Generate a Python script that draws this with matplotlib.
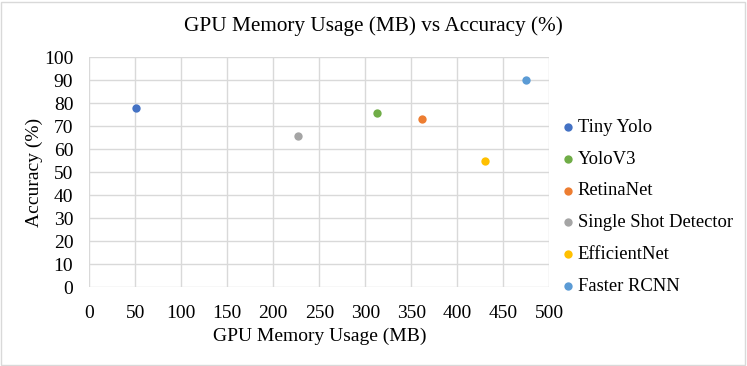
import matplotlib.pyplot as plt
from matplotlib.patches import Rectangle

# data
models = ["Tiny Yolo", "YoloV3", "RetinaNet", "Single Shot Detector",
          "EfficientNet", "Faster RCNN"]
memory_mb = [51, 313, 362, 227, 430, 475]
accuracy = [78, 75.6, 73, 66, 55, 90]
colors = ["#4472C4", "#70AD47", "#ED7D31", "#A5A5A5", "#FFC000", "#5B9BD5"]

x_ticks = list(range(0, 501, 50))
y_ticks = list(range(0, 101, 10))

plt.rcParams["font.family"] = ["Liberation Serif", "DejaVu Serif"]

fig = plt.figure(figsize=(7.47, 3.66), dpi=100)
W, H = 747, 366
ax = fig.add_axes((89.3 / W, 1 - 287.3 / H, 460 / W, 230 / H))

for name, x, y, c in zip(models, memory_mb, accuracy, colors):
    ax.scatter(x, y, s=36, color=c, label=name, zorder=3, linewidths=0)

ax.set_xlim(0, 500)
ax.set_ylim(0, 100)
ax.set_xticks(x_ticks)
ax.set_yticks(y_ticks)
ax.grid(True, color="#D9D9D9", linewidth=1)
ax.set_axisbelow(True)
for s in ax.spines.values():
    s.set_visible(False)
ax.tick_params(length=0, labelsize=14, colors="#000000")
ax.tick_params(axis="x", pad=12.5)
ax.tick_params(axis="y", pad=11.5)

ax.set_xlabel("GPU Memory Usage (MB)", fontsize=14, labelpad=4)
ax.set_ylabel("Accuracy (%)", fontsize=14, labelpad=0.5)

fig.text(373 / W, 1 - 26 / H, "GPU Memory Usage (MB) vs Accuracy (%)",
         ha="center", va="center", fontsize=15.3)

leg = fig.legend(loc="upper left", bbox_to_anchor=(559 / W, 1 - 119 / H),
                 frameon=False, fontsize=13.4, handletextpad=0.0,
                 labelspacing=0.79, handlelength=1.0, borderaxespad=0,
                 borderpad=0)

# chart area border
fig.patches.append(Rectangle((1 / W, 1 / H), 744 / W, 363 / H,
                             transform=fig.transFigure, fill=False,
                             edgecolor="#D9D9D9", linewidth=1))

fig.savefig("out.png", dpi=100)
